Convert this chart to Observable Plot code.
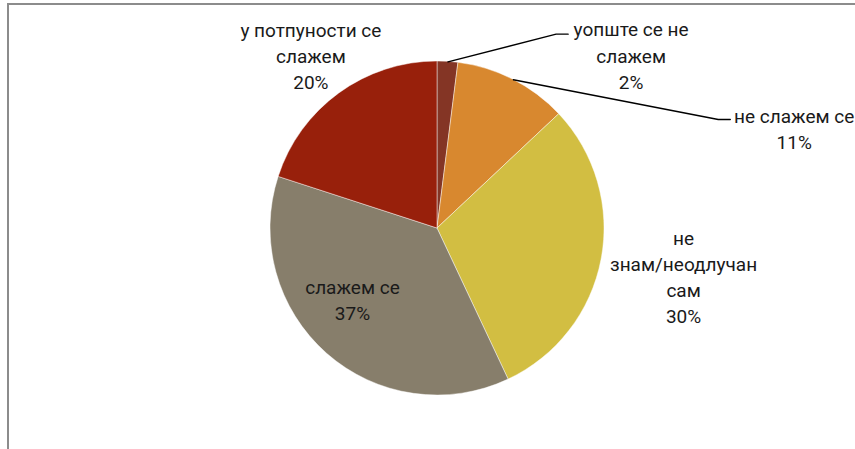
<!DOCTYPE html>
<html><head><meta charset="utf-8">
<script src="https://cdn.jsdelivr.net/npm/d3@7"></script>
<script src="https://cdn.jsdelivr.net/npm/@observablehq/plot@0.6"></script>
<style>
body{margin:0;background:#fff;}
#wrap{position:relative;width:855px;height:449px;overflow:hidden;}
#wrap svg{position:absolute;left:0;top:0;}
#frame{position:absolute;left:7px;top:3px;right:-5px;bottom:-5px;border-left:2px solid #8c8c8c;border-top:2px solid #8c8c8c;pointer-events:none;}
</style></head><body>
<div id="wrap"></div>
<script>
// ---- data ----
const categories = ["уопште се не слажем", "не слажем се", "не знам/неодлучан сам", "слажем се", "у потпуности се слажем"];
const labelLines = [["уопште се не", "слажем"], ["не слажем се"], ["не", "знам/неодлучан", "сам"], ["слажем се"], ["у потпуности се", "слажем"]];
const values = [2, 11, 30, 37, 20];
const colors = ["#843525", "#D8882F", "#D2BE42", "#877E6B", "#98200B"];

// ---- label layout (style, not data): distance from centre in radii, angle clockwise from 12 o'clock (null = slice middle)
const labelDist = [1.56, 2.22, 1.50, 0.66, 1.29];
const labelAngle = [48, 74.2, null, 230.5, null];
const leaderEnd = [[-0.377, 0.12], [-0.383, 0.048], null, null, null];

const total = d3.sum(values);
const pie = d3.pie().sort(null).value(d => d.value);
const rows = categories.map((c, i) => ({name: c, value: values[i], color: colors[i], lines: labelLines[i], i}));
const arcs = pie(rows);

const pol = (angleRad, r) => [r * Math.sin(angleRad), r * Math.cos(angleRad)];

const labels = arcs.map((a, i) => {
  const mid = (a.startAngle + a.endAngle) / 2;
  const ang = labelAngle[i] == null ? mid : labelAngle[i] * Math.PI / 180;
  const [x, y] = pol(ang, labelDist[i]);
  return {x, y, text: a.data.lines.concat([Math.round(a.value / total * 100) + "%"]).join("\n"), mid, i};
});

const leaders = [];
labels.forEach((l, i) => {
  if (!leaderEnd[i]) return;
  const [ax, ay] = pol(l.mid, 1);
  const ex = l.x + leaderEnd[i][0], ey = l.y + leaderEnd[i][1];
  leaders.push({x: ax, y: ay, k: i});
  leaders.push({x: ex - 0.072, y: ey, k: i});
  leaders.push({x: ex, y: ey, k: i});
});

const cx = 437, cy = 228, R = 167;

const pieMark = (index, scales) => {
  const x0 = scales.x(0), y0 = scales.y(0), r = scales.x(1) - scales.x(0);
  const g = d3.create("svg:g").attr("transform", `translate(${x0},${y0})`);
  g.selectAll("path").data(arcs).join("path")
    .attr("d", d3.arc().innerRadius(0).outerRadius(r))
    .attr("fill", d => d.data.color)
    .attr("stroke", "#ffffff")
    .attr("stroke-opacity", 0.6)
    .attr("stroke-width", 0.75);
  return g.node();
};

const chart = Plot.plot({
  width: 855,
  height: 449,
  style: {background: "transparent", fontFamily: "Roboto, sans-serif", overflow: "visible"},
  x: {domain: [-1, 1], range: [cx - R, cx + R], axis: null},
  y: {domain: [-1, 1], range: [cy + R, cy - R], axis: null},
  marks: [
    pieMark,
    Plot.line(leaders, {x: "x", y: "y", z: "k", stroke: "#000", strokeWidth: 1.4}),
    Plot.text(labels, {x: "x", y: "y", text: "text", fill: "#1a1a1a", fontSize: 19, lineHeight: 1.37, fontFamily: "Roboto, sans-serif"})
  ]
});
const wrap = document.getElementById("wrap");
wrap.appendChild(chart);
const frame = document.createElement("div");
frame.id = "frame";
wrap.appendChild(frame);
</script>
</body></html>
